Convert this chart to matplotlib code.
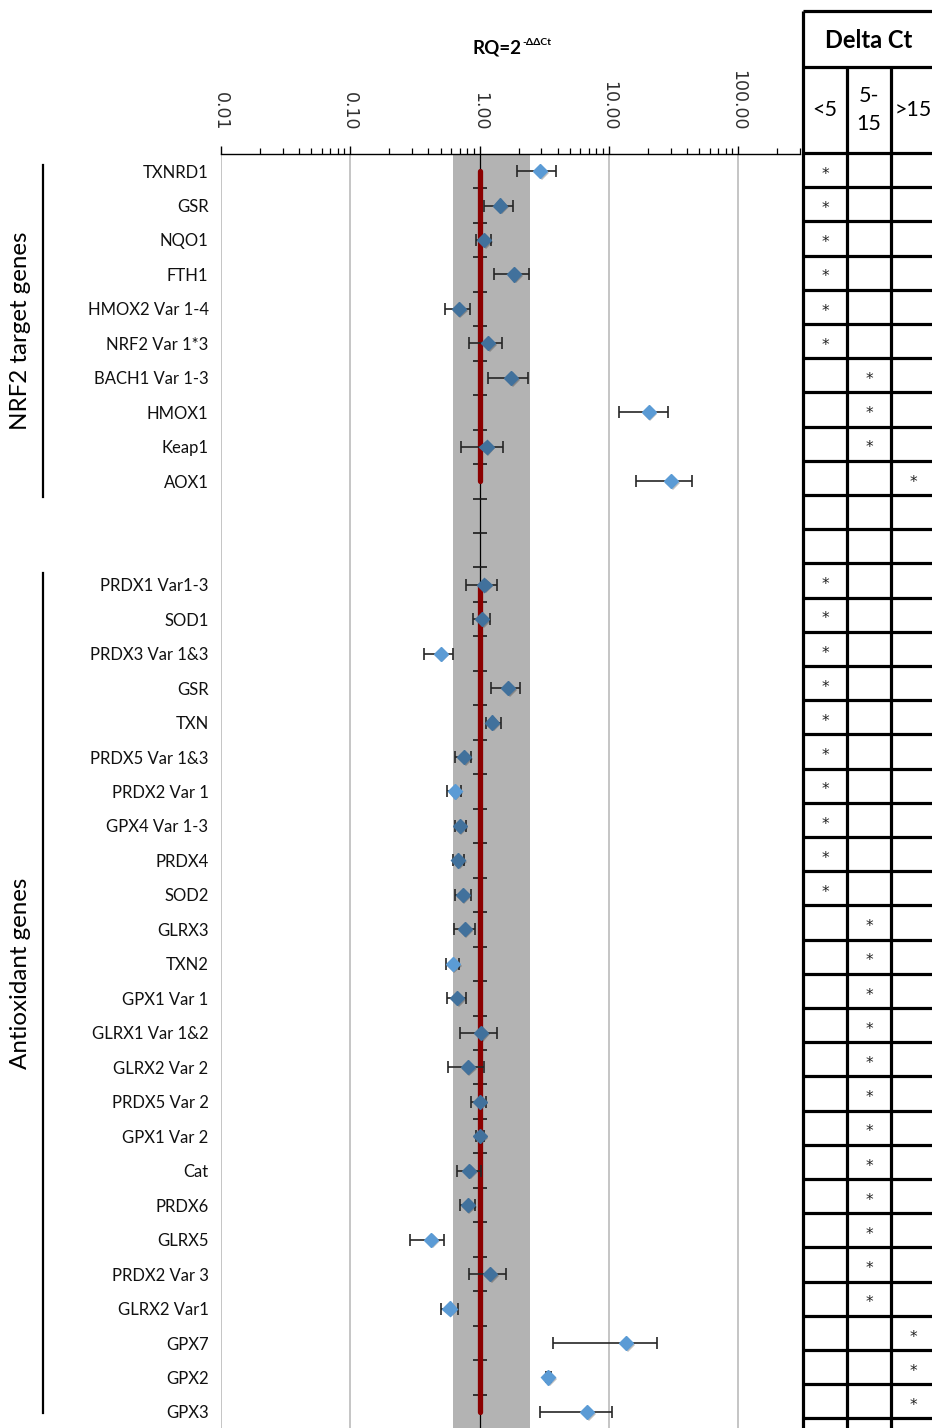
import numpy as np
import matplotlib
matplotlib.use("Agg")
import matplotlib.pyplot as plt
import matplotlib.patheffects as pe
from matplotlib.ticker import LogLocator, FixedLocator, NullFormatter
from matplotlib.lines import Line2D

# ---------------- data ----------------
nrf2_genes = ["TXNRD1", "GSR", "NQO1", "FTH1", "HMOX2 Var 1-4", "NRF2 Var 1*3",
              "BACH1 Var 1-3", "HMOX1", "Keap1", "AOX1"]
nrf2_rq = [2.93, 1.44, 1.08, 1.85, 0.69, 1.16, 1.76, 20.3, 1.13, 30.1]
nrf2_lo = [1.96, 1.08, 0.94, 1.29, 0.54, 0.83, 1.16, 11.9, 0.72, 16.3]
nrf2_hi = [3.90, 1.80, 1.22, 2.40, 0.84, 1.48, 2.35, 28.7, 1.52, 44.2]
nrf2_sig = [1, 0, 0, 0, 0, 0, 0, 1, 0, 1]
nrf2_dct = ["<5"] * 6 + ["5-15"] * 3 + [">15"]

antiox_genes = ["PRDX1 Var1-3", "SOD1", "PRDX3 Var 1&3", "GSR", "TXN", "PRDX5 Var 1&3",
                "PRDX2 Var 1", "GPX4 Var 1-3", "PRDX4", "SOD2", "GLRX3", "TXN2",
                "GPX1 Var 1", "GLRX1 Var 1&2", "GLRX2 Var 2", "PRDX5 Var 2", "GPX1 Var 2",
                "Cat", "PRDX6", "GLRX5", "PRDX2 Var 3", "GLRX2 Var1", "GPX7", "GPX2", "GPX3"]
antiox_rq = [1.09, 1.05, 0.50, 1.66, 1.25, 0.755, 0.64, 0.70, 0.68, 0.74, 0.765, 0.62,
             0.67, 1.03, 0.81, 1.00, 1.00, 0.83, 0.81, 0.42, 1.20, 0.585, 13.6, 3.40, 6.78]
antiox_lo = [0.79, 0.89, 0.37, 1.23, 1.12, 0.65, 0.56, 0.64, 0.62, 0.64, 0.63, 0.55,
             0.56, 0.71, 0.57, 0.86, 0.93, 0.67, 0.71, 0.29, 0.83, 0.50, 3.71, 3.25, 2.91]
antiox_hi = [1.36, 1.20, 0.62, 2.05, 1.47, 0.86, 0.72, 0.78, 0.755, 0.85, 0.92, 0.69,
             0.79, 1.36, 1.09, 1.11, 1.09, 1.02, 0.92, 0.53, 1.60, 0.675, 23.7, 3.56, 10.5]
antiox_sig = [0, 0, 1, 0, 0, 0, 1, 0, 0, 0, 0, 1, 0, 0, 0, 0, 0, 0, 0, 1, 0, 1, 1, 1, 1]
antiox_dct = ["<5"] * 10 + ["5-15"] * 12 + [">15"] * 3

n_blank = 2
band_lo, band_hi = 0.62, 2.44
x_ticks = [0.01, 0.1, 1, 10, 100]
x_ticklabels = ["0.01", "0.10", "1.00", "10.00", "100.00"]
dct_cols = ["<5", "5-\n15", ">15"]
dct_keys = ["<5", "5-15", ">15"]

# ---------------- layout ----------------
W, H = 932, 1428
fig = plt.figure(figsize=(W / 100, H / 100), dpi=100)

labels = nrf2_genes + [""] * n_blank + antiox_genes
n_rows = len(labels)
nrf2_y = np.arange(len(nrf2_genes))
antiox_y = np.arange(len(antiox_genes)) + len(nrf2_genes) + n_blank

plot_top_px, plot_bot_px = 153.8, 1428
row_px = 34.47
ax = fig.add_axes([221 / W, 0, (800 - 221) / W, 1 - plot_top_px / H])
ax.set_xscale("log")
ax.set_xlim(0.01, 300)
ax.set_ylim(-0.5 + (plot_bot_px - plot_top_px) / row_px, -0.5)

# band
ax.axvspan(band_lo, band_hi, color="#b3b3b3", zorder=0, lw=0)
# grid lines
for xv in x_ticks:
    if xv != 1:
        ax.axvline(xv, color="#c0c0c0", lw=1.3, zorder=0.5)
# category axis at x=1
ax.axvline(1, color="#000000", lw=0.9, zorder=1)
bounds = np.arange(n_rows) + 0.5
ax.plot(np.ones_like(bounds), bounds, ls="none", marker="_", ms=9.5, mew=1.2,
        color="#1a1a1a", zorder=1.2)

# red reference line (two segments)
ax.plot(np.ones(len(nrf2_y)), nrf2_y, color="#8b0000", lw=3.8, solid_capstyle="round", zorder=2)
ax.plot(np.ones(len(antiox_y)), antiox_y, color="#8b0000", lw=3.8, solid_capstyle="round", zorder=2)

light, dark = "#5b9bd5", "#41719c"
shadow = [pe.SimplePatchShadow(offset=(1.2, -1.2), shadow_rgbFace="k", alpha=0.25), pe.Normal()]
for ys, rq, lo, hi, sig in [(nrf2_y, nrf2_rq, nrf2_lo, nrf2_hi, nrf2_sig),
                            (antiox_y, antiox_rq, antiox_lo, antiox_hi, antiox_sig)]:
    rq = np.array(rq); lo = np.array(lo); hi = np.array(hi); sig = np.array(sig)
    xerr = np.vstack([rq - lo, hi - rq])
    ax.errorbar(rq, ys, xerr=xerr, fmt="none", ecolor="#262626", elinewidth=1.2,
                capsize=4, capthick=1.2, zorder=3)
    for s, c in [(1, light), (0, dark)]:
        m = sig == s
        ax.plot(rq[m], ys[m], ls="none", marker="D", ms=7.2, mfc=c, mec=c, zorder=4,
                path_effects=shadow)

# axes styling
for sp in ["left", "right", "bottom"]:
    ax.spines[sp].set_visible(False)
ax.spines["top"].set_linewidth(1.0)
ax.xaxis.tick_top()
ax.xaxis.set_major_locator(FixedLocator(x_ticks))
ax.set_xticklabels(x_ticklabels, rotation=-90, fontsize=12.5, color="#303030",
                   family="DejaVu Sans")
ax.xaxis.set_minor_locator(LogLocator(base=10, subs=np.arange(2, 10), numticks=20))
ax.xaxis.set_minor_formatter(NullFormatter())
ax.tick_params(axis="x", which="major", direction="out", length=5.5, width=1.0, pad=11)
ax.tick_params(axis="x", which="minor", direction="out", length=4.0, width=0.9)
for t in ax.get_xticklabels():
    t.set_va("bottom")

ax.set_yticks(np.arange(n_rows))
ax.set_yticklabels(labels, fontsize=12, family="Lato", color="#111111")
ax.tick_params(axis="y", length=0, pad=9)

# title
t1 = fig.text(473 / W, 1 - 48 / H, "RQ=2", fontsize=13.5, fontweight="bold",
              family="Lato", ha="left", va="center")
ax.annotate("-ΔΔCt", xy=(1.0, 0.58), xycoords=t1, fontsize=7.5, fontweight="bold",
            family=["Lato", "DejaVu Sans"], ha="left", va="bottom", annotation_clip=False)

# group labels
fig.text(21 / W, 1 - 331 / H, "NRF2 target genes", rotation=90, fontsize=17.4,
         family="Lato", ha="center", va="center")
fig.text(21 / W, 1 - 973 / H, "Antioxidant genes", rotation=90, fontsize=17.4,
         family="Lato", ha="center", va="center")
fig.add_artist(Line2D([43 / W, 43 / W], [1 - 165 / H, 1 - 497 / H], color="k", lw=1.6))
fig.add_artist(Line2D([43 / W, 43 / W], [1 - 573 / H, 1 - 1413 / H], color="k", lw=1.6))

# ---------------- Delta Ct table ----------------
t_row = 34.2
t_body_top = 153
t_top_px, t_hdr_px = 11, 67
tax = fig.add_axes([803 / W, 0, (935 - 803) / W, 1 - t_top_px / H])
tax.set_xlim(0, 3)
y_top = -(t_body_top - t_top_px) / t_row
y_hdr = -(t_body_top - t_hdr_px) / t_row
y_bot = (H - t_body_top) / t_row
tax.set_ylim(y_bot, y_top)
tax.axis("off")
lw_t = 2.3
tax.hlines(np.arange(0, n_rows + 1), 0, 3, color="k", lw=lw_t, clip_on=False)
tax.hlines([y_top, y_hdr], 0, 3, color="k", lw=lw_t, clip_on=False)
tax.vlines([0], y_top, y_bot, color="k", lw=lw_t, clip_on=False)
tax.vlines([1, 2], y_hdr, y_bot, color="k", lw=lw_t, clip_on=False)
tax.text(1.5, (y_top + y_hdr) / 2 + 0.05, "Delta Ct", fontsize=17, fontweight="bold",
         family="Lato", ha="center", va="center")
for i, lab in enumerate(dct_cols):
    tax.text(i + 0.5, y_hdr / 2, lab, fontsize=15.5, family="Lato", ha="center",
             va="center", linespacing=1.45)
all_dct = nrf2_dct + [None] * n_blank + antiox_dct
for r, d in enumerate(all_dct):
    if d is None:
        continue
    c = dct_keys.index(d)
    tax.text(c + 0.5, r + 0.62, "*", fontsize=11, family="DejaVu Sans", ha="center",
             va="center", color="#222222")

fig.savefig("out.png", dpi=100)
